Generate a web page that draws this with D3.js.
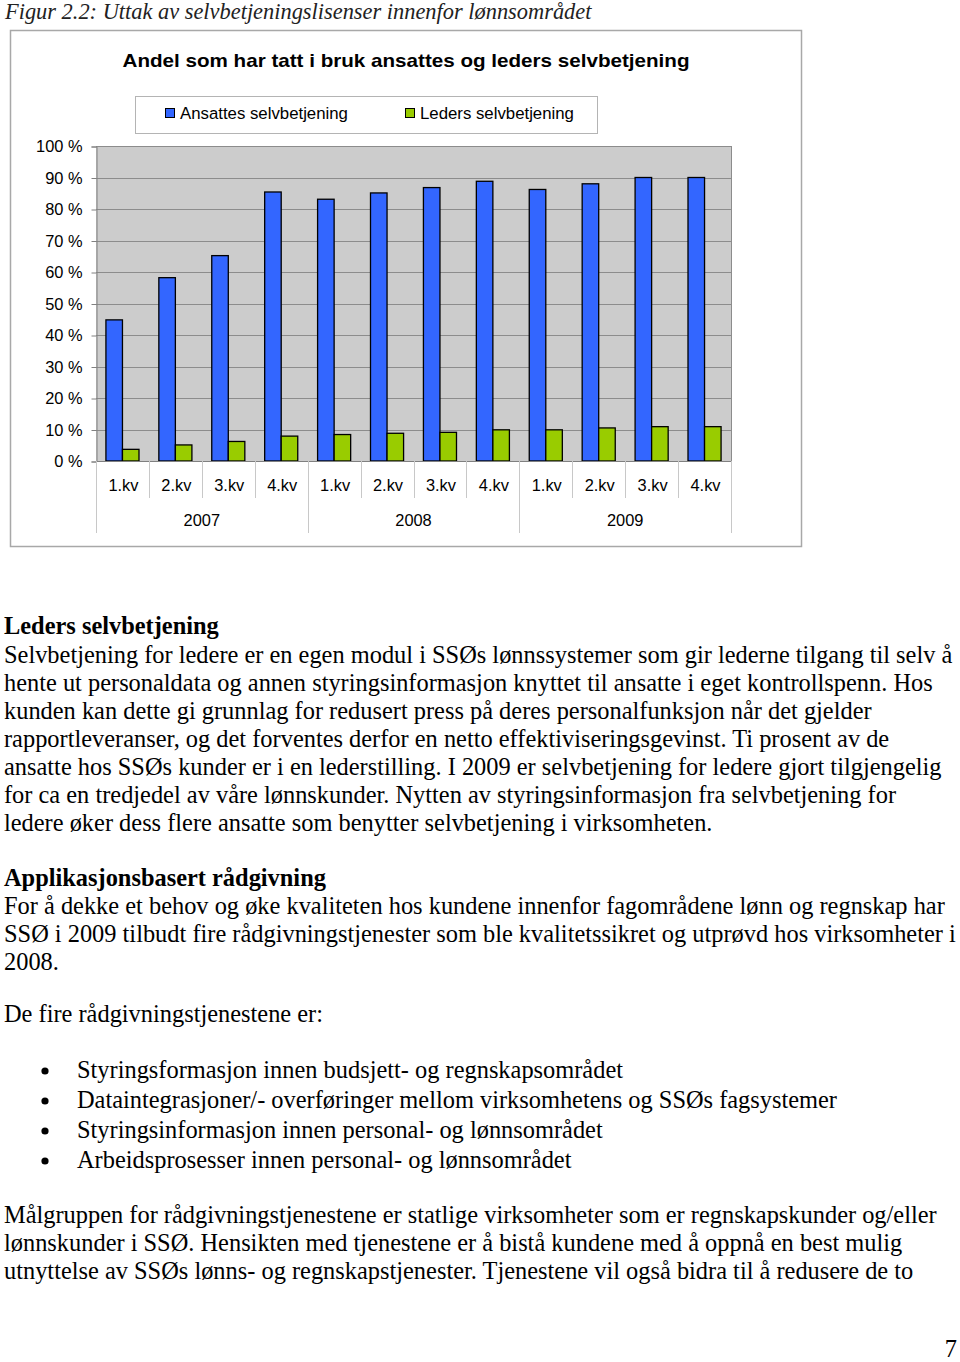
<!DOCTYPE html>
<html><head><meta charset="utf-8">
<script src="https://cdn.jsdelivr.net/npm/d3@7"></script>
<style>
html,body{margin:0;padding:0;background:#fff;}
svg{display:block;}
</style></head>
<body>
<svg id="page" width="960" height="1362"></svg>
<script>
// ---------- DATA ----------
const quarters = ["1.kv","2.kv","3.kv","4.kv","1.kv","2.kv","3.kv","4.kv","1.kv","2.kv","3.kv","4.kv"];
const years = ["2007","2008","2009"];
const seriesNames = ["Ansattes selvbetjening","Leders selvbetjening"];
const ansattes = [0.448, 0.582, 0.652, 0.854, 0.831, 0.851, 0.868, 0.888, 0.862, 0.880, 0.900, 0.900];
const leders   = [0.037, 0.051, 0.062, 0.079, 0.084, 0.088, 0.091, 0.099, 0.099, 0.105, 0.109, 0.109];
const yTicks = [0,0.1,0.2,0.3,0.4,0.5,0.6,0.7,0.8,0.9,1.0];
const colors = ["#3366ff","#99cc00"];

const caption = "Figur 2.2: Uttak av selvbetjeningslisenser innenfor lønnsområdet";
const chartTitle = "Andel som har tatt i bruk ansattes og leders selvbetjening";

const para1Head = "Leders selvbetjening";
const para1 = [
 "Selvbetjening for ledere er en egen modul i SSØs lønnssystemer som gir lederne tilgang til selv å",
 "hente ut personaldata og annen styringsinformasjon knyttet til ansatte i eget kontrollspenn. Hos",
 "kunden kan dette gi grunnlag for redusert press på deres personalfunksjon når det gjelder",
 "rapportleveranser, og det forventes derfor en netto effektiviseringsgevinst. Ti prosent av de",
 "ansatte hos SSØs kunder er i en lederstilling. I 2009 er selvbetjening for ledere gjort tilgjengelig",
 "for ca en tredjedel av våre lønnskunder. Nytten av styringsinformasjon fra selvbetjening for",
 "ledere øker dess flere ansatte som benytter selvbetjening i virksomheten."
];
const para2Head = "Applikasjonsbasert rådgivning";
const para2 = [
 "For å dekke et behov og øke kvaliteten hos kundene innenfor fagområdene lønn og regnskap har",
 "SSØ i 2009 tilbudt fire rådgivningstjenester som ble kvalitetssikret og utprøvd hos virksomheter i",
 "2008."
];
const para3 = ["De fire rådgivningstjenestene er:"];
const bullets = [
 "Styringsformasjon innen budsjett- og regnskapsområdet",
 "Dataintegrasjoner/- overføringer mellom virksomhetens og SSØs fagsystemer",
 "Styringsinformasjon innen personal- og lønnsområdet",
 "Arbeidsprosesser innen personal- og lønnsområdet"
];
const para4 = [
 "Målgruppen for rådgivningstjenestene er statlige virksomheter som er regnskapskunder og/eller",
 "lønnskunder i SSØ. Hensikten med tjenestene er å bistå kundene med å oppnå en best mulig",
 "utnyttelse av SSØs lønns- og regnskapstjenester. Tjenestene vil også bidra til å redusere de to"
];
const pageNo = "7";

// ---------- DRAW ----------
const svg = d3.select("#page");
const serif = "'Liberation Serif','Times New Roman',serif";
const sans = "'Liberation Sans',Arial,sans-serif";

// caption
svg.append("text").attr("x",5).attr("y",19)
  .attr("font-family",serif).attr("font-style","italic").attr("font-size",22.4)
  .attr("fill","#222").text(caption);

// chart frame
svg.append("rect").attr("x",10.5).attr("y",30.5).attr("width",791).attr("height",516)
  .attr("fill","#fff").attr("stroke","#a8a8a8").attr("stroke-width",1.5);

svg.append("text").attr("x",406).attr("y",67).attr("text-anchor","middle")
  .attr("font-family",sans).attr("font-weight","bold").attr("font-size",19)
  .attr("textLength",567).attr("lengthAdjust","spacingAndGlyphs")
  .attr("fill","#000").text(chartTitle);

// legend
const leg = svg.append("g");
leg.append("rect").attr("x",135.5).attr("y",96.5).attr("width",462).attr("height",37)
  .attr("fill","#fff").attr("stroke","#b4b4b4");
const legX = [165,405];
seriesNames.forEach((n,i)=>{
  leg.append("rect").attr("x",legX[i]+0.5).attr("y",108.5).attr("width",9).attr("height",9)
    .attr("fill",colors[i]).attr("stroke","#000").attr("stroke-width",1);
  leg.append("text").attr("x",legX[i]+15).attr("y",118.5)
    .attr("font-family",sans).attr("font-size",16.8).attr("fill","#000").text(n);
});

// plot scales
const plotL = 96, plotR = 731, plotT = 146, plotB = 461;
const idx = d3.range(quarters.length);
const x = d3.scaleBand().domain(idx).range([plotL,plotR]).paddingInner(0).paddingOuter(0);
const xs = d3.scaleBand().domain([0,1]).range([0,x.bandwidth()]).paddingInner(0).paddingOuter(0.6);
const y = d3.scaleLinear().domain([0,1]).range([plotB,plotT]);

// plot background
svg.append("rect").attr("x",plotL).attr("y",plotT).attr("width",plotR-plotL).attr("height",plotB-plotT)
  .attr("fill","#cccccc");

// gridlines
svg.append("g").selectAll("line").data(yTicks.filter(d=>d>0)).join("line")
  .attr("x1",plotL).attr("x2",plotR)
  .attr("y1",d=>Math.round(y(d))+0.5).attr("y2",d=>Math.round(y(d))+0.5)
  .attr("stroke","#8c8c8c").attr("stroke-width",1);
// right border
svg.append("line").attr("x1",plotR+0.5).attr("x2",plotR+0.5).attr("y1",plotT).attr("y2",plotB)
  .attr("stroke","#8c8c8c");

// y axis
const yAxis = d3.axisLeft(y).tickValues(yTicks).tickSize(5).tickPadding(9)
  .tickFormat(d=>Math.round(d*100)+" %");
const gy = svg.append("g").attr("transform",`translate(${plotL+0.5},0.5)`).call(yAxis);
gy.select(".domain").attr("stroke","#808080");
gy.selectAll(".tick line").attr("stroke","#808080");
gy.selectAll(".tick text").attr("font-family",sans).attr("font-size",16.4).attr("fill","#000");

// bars
const series = [ansattes, leders];
series.forEach((vals,si)=>{
  svg.append("g").selectAll("rect").data(vals).join("rect")
    .attr("x",(d,i)=>x(i)+xs(si))
    .attr("width",xs.bandwidth())
    .attr("y",d=>y(d))
    .attr("height",d=>y(0)-y(d))
    .attr("fill",colors[si]).attr("stroke","#000").attr("stroke-width",1.3);
});

// x axis baseline
svg.append("line").attr("x1",plotL).attr("x2",plotR).attr("y1",plotB+0.5).attr("y2",plotB+0.5)
  .attr("stroke","#808080");

// category separators
const sepCat = d3.range(quarters.length+1).filter(i=>i%4!==0);
svg.append("g").selectAll("line").data(sepCat).join("line")
  .attr("x1",i=>Math.round(i<quarters.length?x(i):plotR)+0.5)
  .attr("x2",i=>Math.round(i<quarters.length?x(i):plotR)+0.5)
  .attr("y1",plotB).attr("y2",plotB+37).attr("stroke","#c8c8c8");
const sepYear = [0,4,8,12];
svg.append("g").selectAll("line").data(sepYear).join("line")
  .attr("x1",i=>Math.round(i<quarters.length?x(i):plotR)+0.5)
  .attr("x2",i=>Math.round(i<quarters.length?x(i):plotR)+0.5)
  .attr("y1",plotB).attr("y2",plotB+72).attr("stroke","#c8c8c8");

// category labels
svg.append("g").selectAll("text").data(quarters).join("text")
  .attr("x",(d,i)=>x(i)+x.bandwidth()/2+1).attr("y",491)
  .attr("text-anchor","middle").attr("font-family",sans).attr("font-size",16.4).attr("fill","#000")
  .text(d=>d);
// year labels
svg.append("g").selectAll("text").data(years).join("text")
  .attr("x",(d,i)=>(x(i*4)+ (i*4+4<quarters.length? x(i*4+4):plotR))/2).attr("y",526)
  .attr("text-anchor","middle").attr("font-family",sans).attr("font-size",16.4).attr("fill","#000")
  .text(d=>d);

// ---------- body text ----------
const fs = 24.4;
function lines(arr, y0, step, xPos, bold){
  arr.forEach((t,i)=>{
    svg.append("text").attr("x",xPos).attr("y",y0+i*step)
      .attr("font-family",serif).attr("font-size",fs).attr("fill","#000")
      .attr("font-weight",bold?"bold":"normal").text(t);
  });
}
lines([para1Head],634,28,4,true);
lines(para1,663,28,4,false);
lines([para2Head],886,28,4,true);
lines(para2,914,28,4,false);
lines(para3,1022,28,4,false);
bullets.forEach((t,i)=>{
  const by = 1078+i*30;
  svg.append("circle").attr("cx",45).attr("cy",by-7).attr("r",3.6).attr("fill","#000");
  svg.append("text").attr("x",77).attr("y",by)
    .attr("font-family",serif).attr("font-size",fs).attr("fill","#000").text(t);
});
lines(para4,1223,28,4,false);
svg.append("text").attr("x",957).attr("y",1357).attr("text-anchor","end")
  .attr("font-family",serif).attr("font-size",fs).attr("fill","#000").text(pageNo);
</script>
</body></html>
